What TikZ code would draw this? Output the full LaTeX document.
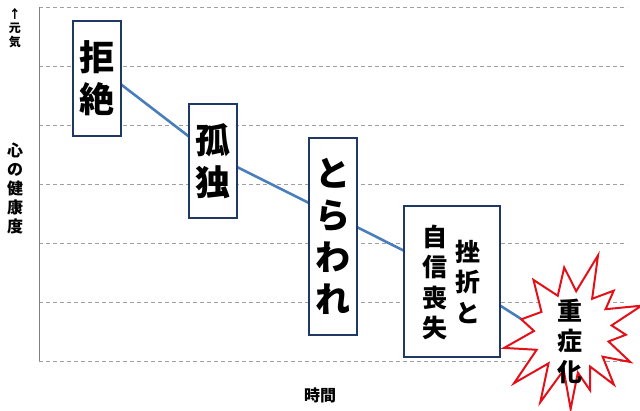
\documentclass[tikz,border=0pt]{standalone}
\usepackage{fontspec}
\setmainfont{Noto Sans CJK JP}
\usetikzlibrary{calc}
\definecolor{boxblue}{HTML}{1F3864}
\definecolor{lineblue}{HTML}{4A7EBB}
\definecolor{burstred}{HTML}{E3101A}
\definecolor{gridgray}{HTML}{A0A0A0}

\begin{document}
\begin{tikzpicture}[x=1pt,y=1pt,
 gridline/.style={gridgray, line width=0.8pt, dash pattern=on 4pt off 3pt},
 stage/.style={draw=boxblue, line width=2.6pt, fill=white, inner sep=0pt, minimum width=48pt, align=center},
 bigjp/.style={font={\fontsize{35}{42}\selectfont\bfseries}},
 midjp/.style={font={\fontsize{25}{30.5}\selectfont\bfseries}, align=center, inner sep=0pt},
 axisjp/.style={align=center, inner sep=0pt}]
\useasboundingbox (0,0) rectangle (640,411);
\foreach \g in {0,...,6}
 \draw[gridline] (39,{50+59*\g})--(627,{50+59*\g});
\draw[gray, line width=0.8pt] (39,50)--(39,404);
\node[axisjp, font={\fontsize{12}{14}\selectfont\bfseries}] (genki) at (15,383) {↑\\元\\気};
\node[axisjp, font={\fontsize{16}{19}\selectfont\bfseries}] (kenko) at (15,223) {心\\の\\健\\康\\度};
\node[axisjp, font={\fontsize{16}{19}\selectfont\bfseries}] (jikan) at (320,16) {時間};
\coordinate (p1) at (97,345);
\coordinate (p2) at (213,256);
\coordinate (p3) at (333,196);
\coordinate (p4) at (452,136);
\coordinate (p5) at (570,61);
\draw[lineblue, line width=2.6pt, line join=round] (p1)--(p2)--(p3)--(p4)--(p5);
\node[stage, bigjp, minimum height=115pt] (kyozetsu) at (97,332.5) {拒\\絶};
\node[stage, bigjp, minimum height=114pt] (koritsu) at (213,250) {孤\\独};
\node[stage, bigjp, minimum height=197pt] (torawa) at (333,174.5) {と\\ら\\わ\\れ};
\node[stage, minimum width=96pt, minimum height=151pt] (zasetsu) at (452,129.5) {};
\node[midjp] (zasetsuR) at ([xshift=16pt]zasetsu.center) {挫\\折\\と};
\node[midjp] (zasetsuL) at ([xshift=-17pt,yshift=-1pt]zasetsu.center) {自\\信\\喪\\失};
\draw[burstred, line width=2pt, fill=white, line join=miter, shift={(572,80)}]
 (71:80)--(58:38)--(44:58)--(33:40)--(20:74)--(8:40)--(-4:54)--(-16:38)--(-28:66)--(-40:40)
 --(-52:68)--(-63:40)--(-73:62)--(-82:42)--(-91:78)--(-102:40)--(-114:78)--(-126:40)--(-138:78)
 --(-152:40)--(-166:70)--(180:38)--(167:52)--(148:36)--(127:64)--(112:38)--(97:64)--(84:40)--cycle;
\node[midjp] (jusho) at (570,70) {重\\症\\化};
\end{tikzpicture}
\end{document}
